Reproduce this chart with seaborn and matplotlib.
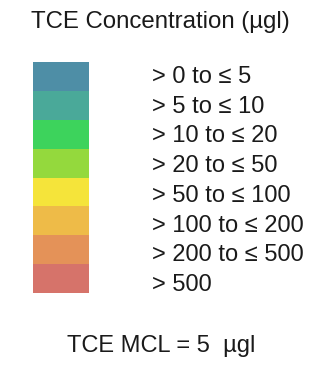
#!/usr/bin/env python3
"""
TCE concentration legend swatches
"""

import numpy as np
import matplotlib
matplotlib.use("Agg")
import matplotlib.pyplot as plt
from matplotlib.colors import ListedColormap
import seaborn as sns

# ------------------------------------------------------------
# Data
# ------------------------------------------------------------
title = "TCE Concentration (µgl)"
class_labels = [
    "> 0 to ≤ 5",
    "> 5 to ≤ 10",
    "> 10 to ≤ 20",
    "> 20 to ≤ 50",
    "> 50 to ≤ 100",
    "> 100 to ≤ 200",
    "> 200 to ≤ 500",
    "> 500",
]
class_colors = [
    "#4e8ea6",
    "#4aa999",
    "#3dd35c",
    "#94d93d",
    "#f5e43a",
    "#eebb48",
    "#e49258",
    "#d6736a",
]
footer = "TCE MCL = 5  µgl"

# ------------------------------------------------------------
# Plot
# ------------------------------------------------------------
sns.set_theme(style="white")
plt.rcParams["font.family"] = ["Liberation Sans", "DejaVu Sans"]

W, H = 328, 371
fig = plt.figure(figsize=(W / 100, H / 100), dpi=100)
fig.patch.set_facecolor("white")

# swatch column placed in pixel terms
left, right, top, bottom = 33, 89, 62, 293
ax = fig.add_axes([left / W, 1 - bottom / H, (right - left) / W, (bottom - top) / H])

grid = np.arange(len(class_labels)).reshape(-1, 1)
sns.heatmap(grid, cmap=ListedColormap(class_colors), cbar=False,
            xticklabels=False, yticklabels=False, ax=ax)
ax.set_xlabel("")
ax.set_ylabel("")

# labels to the right of the swatches, spaced a touch wider than the rows
col_px = right - left
row_px = (bottom - top) / len(class_labels)
label_x = 1 + (152 - right) / col_px
for i, lab in enumerate(class_labels):
    ax.text(label_x, (77 - top + i * 29.7) / row_px, lab, ha="left", va="center",
            fontsize=17, color="#1a1a1a", clip_on=False)

fig.text(160 / W, 1 - 22 / H, title, ha="center", va="center",
         fontsize=17.3, color="#1a1a1a")
fig.text(161 / W, 1 - 346 / H, footer, ha="center", va="center",
         fontsize=17, color="#1a1a1a")

plt.savefig("out.png", dpi=100)
